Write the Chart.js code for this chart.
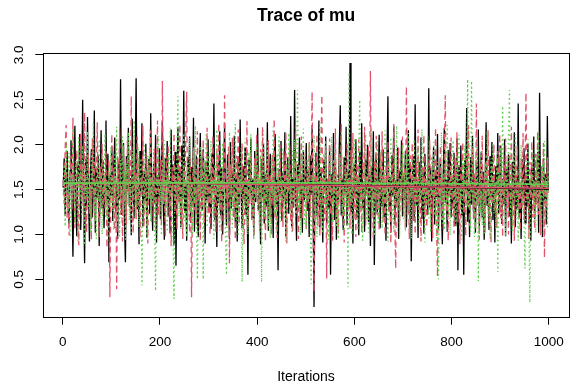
<!DOCTYPE html>
<html lang="en">
  <head>
    <meta charset="UTF-8" />
    <title>Trace of mu</title>
    <script src="https://cdn.jsdelivr.net/npm/chart.js"></script>
    <style>
      html,
      body {
        margin: 0;
        padding: 0;
        background: #fff;
      }
    </style>
  </head>
  <body>
    <canvas id="traceChart" width="573" height="392"></canvas>

    <script>
      // mu draws per chain, every 2nd iteration kept
      const thin = 2;

      const chain1 = [
        1.52, 1.85, 1.21, 1.64, 1.93, 1.38, 1.12, 1.71, 2.05, 1.47, 0.75, 1.58, 2.21, 1.33, 0.98, 1.77, 1.62, 2.12, 1.05, 1.49, 2.50, 1.36, 0.68, 1.84, 1.27,
        2.31, 1.44, 0.92, 1.68, 1.95, 1.19, 1.56, 2.38, 1.02, 1.73, 1.41, 1.88, 0.87, 1.61, 2.16, 1.29, 1.83, 1.07, 1.52, 2.27, 1.35, 1.90, 0.69, 1.66, 1.43,
        1.98, 1.15, 1.74, 2.08, 1.26, 1.57, 0.95, 1.81, 1.39, 2.73, 1.22, 1.67, 2.02, 1.11, 0.69, 1.87, 1.48, 2.19, 1.31, 1.63, 0.99, 2.29, 1.54, 1.18, 1.76,
        2.74, 1.28, 1.59, 0.89, 1.93, 1.45, 2.24, 1.09, 1.70, 1.37, 2.01, 0.96, 1.62, 1.84, 1.23, 2.35, 1.50, 1.04, 1.79, 1.34, 2.11, 0.91, 1.66, 1.42, 1.96,
        1.17, 1.72, 2.26, 1.30, 0.94, 1.85, 1.53, 2.04, 1.20, 1.61, 1.01, 2.17, 1.46, 1.78, 0.88, 1.92, 0.65, 1.55, 2.20, 1.36, 1.69, 1.08, 1.99, 1.40, 2.60,
        1.24, 1.58, 0.93, 1.86, 1.49, 2.09, 1.13, 1.75, 1.32, 2.30, 1.03, 1.64, 1.88, 1.19, 0.97, 1.71, 2.13, 1.44, 1.27, 1.95, 1.60, 0.90, 1.82, 1.38, 2.06,
        1.25, 1.68, 1.06, 1.91, 1.47, 2.46, 1.16, 1.57, 0.86, 1.80, 1.35, 2.15, 1.21, 1.74, 1.00, 1.63, 2.23, 1.41, 1.10, 1.89, 1.52, 0.95, 2.03, 1.29, 1.70,
        1.43, 2.10, 1.14, 1.65, 0.92, 1.87, 1.33, 2.28, 1.50, 1.07, 1.76, 1.39, 1.97, 1.22, 1.59, 0.55, 1.83, 1.46, 2.07, 1.18, 1.62, 0.99, 1.93, 1.36, 1.72,
        2.19, 1.27, 1.55, 0.89, 1.84, 1.42, 2.01, 1.12, 1.67, 1.31, 2.25, 1.04, 1.58, 1.90, 1.19, 1.48, 0.96, 1.79, 2.12, 1.34, 1.61, 0.60, 1.73, 1.45, 2.04,
        1.15, 1.69, 1.37, 2.14, 0.98, 1.56, 1.86, 1.23, 1.47, 2.32, 1.09, 1.64, 1.30, 2.61, 1.40, 0.93, 1.78, 1.52, 2.08, 1.17, 1.66, 1.02, 1.94, 1.38, 1.60,
        2.02, 1.26, 1.71, 0.97, 1.88, 1.44, 2.18, 1.32, 0.19, 1.63, 1.91, 1.20, 1.54, 2.27, 1.08, 1.75, 1.36, 0.91, 1.83, 1.49, 2.09, 1.13, 1.59, 1.28, 1.97,
        0.55, 1.67, 1.40, 2.13, 1.16, 1.80, 0.94, 1.57, 1.33, 1.99, 2.44, 1.21, 1.62, 1.05, 1.86, 1.45, 2.20, 1.10, 1.70, 1.35, 2.91, 1.25, 1.52, 0.90, 1.78,
        1.42, 2.06, 1.18, 1.61, 0.99, 1.92, 1.37, 2.24, 1.29, 1.55, 1.03, 1.84, 1.46, 2.00, 1.14, 1.68, 0.87, 1.76, 1.39, 2.15, 0.66, 1.58, 1.90, 1.23, 1.50,
        2.11, 1.07, 1.73, 1.31, 1.95, 1.19, 1.56, 0.93, 1.82, 2.54, 1.27, 1.64, 1.02, 1.88, 1.43, 2.21, 1.12, 1.60, 1.34, 1.97, 0.95, 1.71, 1.48, 2.05, 1.20,
        1.65, 1.38, 1.93, 1.08, 1.57, 2.16, 1.24, 1.79, 0.70, 1.53, 1.87, 1.15, 2.45, 1.32, 1.62, 0.96, 1.81, 1.44, 2.08, 1.17, 1.69, 1.01, 1.90, 1.36, 1.55,
        1.22, 2.63, 1.30, 1.74, 0.92, 1.59, 1.98, 1.11, 1.66, 1.40, 2.12, 1.06, 1.52, 1.85, 1.26, 0.89, 1.72, 2.19, 1.35, 1.61, 1.03, 1.94, 1.42, 2.02, 1.19,
        1.63, 1.29, 1.91, 1.10, 1.56, 2.07, 0.60, 1.77, 1.37, 1.99, 1.21, 1.68, 0.55, 1.83, 1.47, 2.41, 1.14, 1.58, 0.97, 1.86, 1.33, 2.10, 1.25, 1.64, 1.02,
        1.80, 1.41, 2.17, 1.09, 1.54, 1.92, 1.18, 1.70, 0.94, 1.60, 2.25, 1.32, 1.48, 1.05, 1.87, 1.39, 2.03, 1.16, 1.67, 0.91, 1.76, 1.44, 2.13, 1.23, 1.57,
        1.99, 1.12, 1.62, 1.34, 2.06, 0.98, 1.73, 1.45, 1.89, 1.20, 1.55, 0.90, 1.81, 1.37, 2.14, 1.08, 1.65, 1.28, 2.46, 1.19, 1.53, 0.95, 1.84, 1.40, 1.96,
        1.13, 1.69, 1.31, 2.01, 1.06, 1.58, 0.93, 1.78, 1.43, 2.09, 1.17, 1.61, 1.35, 1.92, 1.02, 2.58, 1.26, 1.54, 0.97, 1.85, 1.38, 1.67, 1.11, 2.32, 1.49,
      ];

      const chain2 = [
        1.61, 1.34, 1.97, 2.22, 1.18, 1.45, 0.99, 1.73, 1.88, 1.26, 2.30, 1.52, 1.07, 1.39, 1.94, 1.66, 0.88, 1.58, 2.14, 1.31, 1.79, 1.12, 2.36, 1.48, 1.02,
        1.70, 1.90, 1.23, 1.55, 0.94, 2.07, 1.43, 1.81, 1.15, 1.62, 2.25, 1.36, 0.97, 1.76, 1.50, 2.01, 1.20, 1.67, 1.29, 1.93, 0.85, 1.59, 1.84, 0.30, 1.46,
        2.12, 1.28, 1.74, 1.05, 1.64, 0.39, 1.87, 1.41, 2.18, 1.22, 1.53, 0.92, 1.99, 1.35, 1.69, 1.11, 2.04, 1.47, 1.80, 1.25, 2.54, 1.38, 1.01, 1.72, 1.57,
        1.17, 2.09, 1.32, 1.85, 0.96, 1.63, 1.44, 2.21, 1.08, 1.51, 1.91, 1.27, 0.90, 1.78, 1.40, 2.16, 1.14, 1.68, 1.33, 1.96, 1.04, 1.60, 2.27, 1.21, 1.49,
        1.83, 1.10, 2.71, 1.37, 1.65, 0.98, 1.89, 1.30, 2.00, 1.19, 1.56, 0.87, 1.75, 1.42, 2.13, 1.24, 1.61, 1.06, 1.92, 1.35, 2.23, 1.16, 1.54, 0.95, 1.77,
        1.45, 2.03, 2.59, 1.20, 1.66, 1.02, 1.84, 0.30, 1.50, 1.97, 1.27, 1.71, 1.09, 2.15, 1.39, 1.58, 0.93, 1.86, 1.31, 2.06, 1.13, 1.64, 1.44, 2.19, 1.22,
        1.55, 0.99, 1.80, 1.36, 2.10, 1.18, 1.69, 1.03, 1.94, 1.41, 2.24, 1.26, 1.60, 0.91, 1.73, 1.47, 2.55, 1.15, 1.62, 1.33, 1.98, 0.68, 1.78, 1.43, 2.08,
        1.19, 1.67, 0.94, 1.88, 1.30, 2.17, 1.11, 1.57, 1.46, 2.02, 1.24, 0.89, 1.76, 1.38, 2.26, 1.07, 1.63, 1.34, 1.92, 1.16, 1.52, 0.97, 1.85, 1.40, 2.11,
        1.28, 1.70, 1.04, 1.95, 1.37, 2.20, 1.12, 1.59, 0.92, 1.81, 1.45, 2.05, 1.21, 1.66, 1.00, 1.89, 1.32, 2.29, 1.17, 1.54, 0.96, 1.74, 1.43, 2.00, 1.25,
        1.61, 1.08, 1.93, 1.35, 2.14, 0.90, 1.72, 1.48, 1.99, 1.14, 1.58, 1.03, 1.84, 1.39, 2.22, 1.23, 1.65, 0.95, 1.79, 1.30, 2.09, 1.18, 1.56, 1.44, 1.91,
        1.05, 1.68, 1.33, 2.03, 1.20, 1.62, 2.59, 1.27, 0.36, 1.75, 1.41, 2.12, 1.09, 1.57, 0.98, 1.86, 2.55, 1.31, 1.70, 1.15, 1.96, 0.51, 1.64, 1.38, 2.07,
        1.22, 1.59, 0.93, 1.83, 1.46, 2.18, 1.13, 1.67, 1.01, 1.90, 1.36, 2.24, 1.19, 1.55, 0.91, 1.77, 1.42, 2.01, 1.26, 1.63, 1.06, 1.94, 1.34, 2.13, 1.16,
        1.71, 0.97, 1.80, 1.40, 2.06, 1.24, 1.58, 1.02, 1.87, 1.32, 2.20, 1.10, 1.65, 1.45, 1.98, 1.17, 2.82, 1.29, 1.53, 0.94, 1.82, 1.37, 2.10, 1.21, 1.60,
        1.04, 1.92, 1.43, 2.15, 1.14, 1.69, 0.99, 1.78, 1.35, 2.04, 1.25, 1.56, 0.90, 1.85, 1.47, 2.23, 1.18, 0.62, 1.66, 1.33, 1.97, 1.11, 1.61, 1.39, 2.09,
        1.23, 1.73, 1.06, 2.65, 1.30, 1.57, 0.95, 1.88, 1.42, 2.02, 1.15, 1.64, 1.00, 1.81, 1.36, 2.17, 1.27, 1.54, 0.92, 1.76, 1.44, 2.11, 1.19, 1.62, 1.08,
        1.90, 1.34, 2.05, 1.22, 1.59, 0.96, 1.83, 1.40, 2.19, 1.12, 0.53, 1.70, 1.31, 1.99, 1.16, 1.63, 1.03, 1.87, 2.55, 1.26, 1.52, 0.93, 1.79, 1.43, 2.08,
        1.20, 1.66, 1.01, 1.86, 1.35, 2.14, 1.13, 1.56, 0.89, 1.75, 1.41, 2.03, 1.24, 1.61, 0.98, 1.91, 1.29, 2.22, 1.09, 1.58, 1.45, 1.96, 1.17, 1.68, 1.05,
        2.46, 1.32, 1.55, 0.94, 1.80, 1.38, 2.10, 1.21, 1.64, 1.02, 1.89, 1.43, 2.16, 1.14, 1.57, 0.91, 1.78, 1.33, 2.01, 1.25, 1.60, 1.07, 1.93, 1.39, 2.12,
        1.18, 1.67, 0.97, 1.84, 1.42, 2.07, 1.23, 1.53, 1.00, 1.88, 1.36, 2.20, 1.10, 1.62, 0.93, 1.77, 1.44, 1.99, 1.27, 1.59, 1.04, 1.85, 1.30, 2.13, 1.16,
        1.65, 2.58, 1.37, 1.54, 0.95, 1.81, 1.40, 2.04, 1.19, 1.60, 1.06, 1.90, 1.33, 2.15, 1.22, 1.57, 0.99, 1.76, 1.46, 2.02, 0.74, 1.63, 1.28, 1.86, 1.41,
      ];

      const chain3 = [
        1.44, 1.78, 1.09, 2.03, 1.56, 1.25, 1.91, 0.97, 1.67, 1.35, 2.18, 1.48, 1.13, 1.82, 1.60, 0.93, 2.08, 1.38, 1.71, 1.20, 1.99, 1.53, 0.88, 1.86, 1.42,
        2.15, 1.29, 1.63, 1.03, 1.92, 1.47, 2.24, 1.15, 1.58, 0.95, 1.80, 1.37, 2.06, 1.21, 1.69, 1.00, 1.87, 1.43, 2.12, 1.18, 1.55, 0.91, 1.75, 1.32, 1.97,
        1.26, 1.64, 1.05, 1.89, 1.39, 2.20, 1.11, 1.57, 0.98, 1.83, 1.45, 2.09, 1.23, 1.70, 0.94, 1.79, 1.34, 2.14, 1.16, 1.61, 1.02, 1.93, 1.41, 2.27, 1.19,
        1.66, 1.30, 1.98, 1.08, 1.59, 1.85, 0.43, 1.52, 2.01, 1.24, 1.73, 0.96, 1.88, 1.40, 2.16, 1.14, 1.62, 1.36, 1.95, 1.07, 0.37, 1.68, 1.45, 2.10, 1.22,
        1.58, 0.99, 1.84, 1.33, 2.05, 1.17, 1.65, 1.03, 1.90, 1.44, 2.19, 1.27, 1.54, 0.92, 0.28, 1.76, 1.38, 2.00, 2.54, 1.20, 1.61, 1.06, 1.87, 1.31, 2.13,
        1.15, 1.70, 0.97, 1.81, 1.46, 2.08, 1.25, 1.57, 1.01, 1.94, 1.35, 2.21, 1.12, 0.50, 1.64, 1.42, 1.98, 1.19, 1.72, 0.50, 1.83, 1.29, 2.11, 1.08, 1.55,
        1.91, 1.37, 2.04, 1.22, 1.60, 0.95, 1.78, 1.43, 2.17, 1.13, 1.66, 1.04, 1.89, 1.32, 2.02, 1.24, 1.51, 0.93, 0.55, 1.74, 1.40, 2.14, 1.18, 1.63, 1.07,
        1.86, 1.34, 2.23, 1.16, 1.58, 0.98, 1.80, 1.45, 1.96, 0.47, 1.69, 1.28, 2.07, 1.11, 1.56, 1.00, 1.92, 1.39, 2.12, 1.21, 1.62, 0.94, 1.77, 1.44, 2.01,
        1.26, 1.67, 1.05, 1.88, 0.47, 1.53, 2.16, 1.19, 1.71, 1.36, 2.03, 1.09, 1.60, 0.96, 1.85, 1.41, 2.20, 1.23, 1.57, 1.02, 1.90, 1.33, 2.09, 1.14, 1.65,
        1.38, 1.97, 1.17, 1.59, 0.92, 1.82, 1.46, 2.13, 1.24, 1.68, 1.03, 1.93, 1.35, 2.06, 1.20, 1.54, 2.61, 1.29, 1.74, 0.99, 1.87, 1.42, 2.18, 1.12, 1.61,
        1.06, 1.84, 1.37, 2.02, 1.21, 0.45, 1.66, 1.48, 2.11, 1.15, 1.58, 0.97, 1.79, 1.40, 2.24, 1.18, 1.63, 1.01, 1.90, 1.34, 2.05, 1.25, 1.56, 0.94, 1.81,
        1.43, 2.09, 1.13, 1.67, 1.32, 1.96, 1.08, 1.62, 0.95, 1.86, 1.39, 2.15, 1.22, 1.55, 1.04, 1.89, 1.30, 1.70, 0.41, 2.80, 1.36, 1.59, 1.00, 1.83, 1.47,
        2.07, 1.19, 1.64, 1.05, 1.91, 2.50, 1.28, 1.53, 0.93, 1.78, 1.41, 2.12, 1.16, 1.68, 1.02, 1.85, 1.35, 2.19, 1.24, 1.57, 0.98, 1.80, 1.44, 2.04, 1.11,
        1.62, 1.31, 1.95, 1.07, 1.73, 1.38, 2.16, 1.20, 1.56, 0.92, 1.82, 1.46, 2.08, 1.14, 1.65, 1.03, 1.88, 1.33, 2.21, 1.26, 1.59, 0.97, 1.76, 1.42, 2.00,
        1.17, 1.69, 1.04, 1.90, 1.37, 2.13, 1.22, 1.55, 0.95, 1.84, 1.45, 2.06, 1.13, 1.63, 1.30, 1.98, 1.09, 1.71, 1.40, 2.17, 1.25, 1.58, 0.91, 1.79, 1.34,
        2.10, 1.18, 1.66, 1.02, 1.87, 1.43, 2.03, 1.21, 1.60, 0.96, 1.81, 0.50, 1.52, 1.37, 2.14, 1.12, 1.67, 1.05, 1.93, 1.32, 2.22, 1.19, 1.57, 0.99, 1.78,
        1.44, 2.05, 1.15, 1.64, 1.08, 1.89, 1.36, 2.11, 1.27, 1.54, 0.94, 1.83, 1.41, 1.99, 1.16, 1.61, 2.73, 1.29, 1.70, 1.03, 2.71, 1.38, 1.58, 0.97, 1.86,
        1.33, 2.07, 0.48, 1.65, 1.24, 1.92, 1.10, 1.57, 1.01, 1.80, 1.42, 2.15, 1.19, 1.63, 0.95, 1.85, 1.35, 2.02, 1.23, 1.56, 1.06, 1.88, 0.58, 1.69, 1.30,
        1.97, 1.14, 2.43, 1.37, 1.60, 0.98, 1.82, 1.45, 2.09, 2.61, 1.21, 1.66, 1.04, 1.90, 1.39, 2.12, 1.17, 1.58, 0.93, 1.76, 1.44, 2.00, 1.26, 1.62, 1.09,
        0.62, 1.84, 1.36, 2.06, 1.18, 0.24, 1.67, 1.43, 1.95, 1.12, 1.59, 1.02, 1.87, 1.31, 2.14, 1.22, 1.54, 0.97, 1.79, 1.40, 2.04, 1.16, 1.63, 1.08, 1.72,
      ];

      // lowess smooth of each chain
      const smoothIters = [1, 250, 500, 750, 1000];
      const smooth1 = [1.578, 1.57, 1.552, 1.53, 1.508];
      const smooth2 = [1.575, 1.568, 1.55, 1.528, 1.515];
      const smooth3 = [1.572, 1.575, 1.575, 1.568, 1.56];

      const xTicks = [0, 200, 400, 600, 800, 1000];
      const yTicks = [0.5, 1.0, 1.5, 2.0, 2.5, 3.0];

      const chainColors = ["#000000", "#DF536B", "#61D04F"];
      const fontFamily = "'Liberation Sans', Arial, Helvetica, sans-serif";

      const toPoints = (values) =>
        values.map((v, i) => ({ x: 1 + thin * i, y: v }));
      const toSmooth = (values) =>
        values.map((v, i) => ({ x: smoothIters[i], y: v }));

      // frame around the plot region
      const plotBox = {
        id: "plotBox",
        afterDraw(chart) {
          const { ctx, chartArea } = chart;
          const left = Math.round(chartArea.left) + 0.5;
          const top = Math.round(chartArea.top) + 0.5;
          const right = Math.round(chartArea.right) + 0.5;
          const bottom = Math.round(chartArea.bottom) + 0.5;
          ctx.save();
          ctx.strokeStyle = "#000";
          ctx.lineWidth = 1;
          ctx.strokeRect(left, top, right - left, bottom - top);
          ctx.restore();
        },
      };

      const traceStyle = {
        borderWidth: 1.3,
        pointRadius: 0,
        tension: 0,
        fill: false,
      };
      const smoothStyle = { ...traceStyle, borderWidth: 1.6 };

      new Chart(document.getElementById("traceChart"), {
        type: "line",
        data: {
          datasets: [
            { ...traceStyle, data: toPoints(chain1), borderColor: chainColors[0], order: 6 },
            { ...traceStyle, data: toPoints(chain2), borderColor: chainColors[1], borderDash: [6, 4], order: 5 },
            { ...traceStyle, data: toPoints(chain3), borderColor: chainColors[2], borderDash: [1.5, 3], order: 4 },
            { ...smoothStyle, data: toSmooth(smooth1), borderColor: chainColors[0], order: 3 },
            { ...smoothStyle, data: toSmooth(smooth2), borderColor: chainColors[1], order: 2 },
            { ...smoothStyle, data: toSmooth(smooth3), borderColor: chainColors[2], order: 1 },
          ],
        },
        options: {
          responsive: false,
          animation: false,
          events: [],
          layout: { padding: { top: 0, left: 0, right: -1, bottom: 0 } },
          plugins: {
            legend: { display: false },
            tooltip: { enabled: false },
            title: {
              display: true,
              text: "Trace of mu",
              color: "#000",
              fullSize: false,
              font: { family: fontFamily, size: 17.5, weight: "bold" },
              padding: { top: 6, bottom: 26 },
            },
          },
          scales: {
            x: {
              type: "linear",
              min: -39.96,
              max: 1040.96,
              afterBuildTicks: (scale) => {
                scale.ticks = xTicks.map((v) => ({ value: v }));
              },
              afterFit: (scale) => {
                scale.height = 75.3;
              },
              ticks: {
                color: "#000",
                font: { family: fontFamily, size: 13.5 },
                maxRotation: 0,
                padding: 9,
                callback: (v) => String(v),
              },
              grid: {
                drawOnChartArea: false,
                drawTicks: true,
                tickLength: 8,
                color: "#000",
                lineWidth: 1,
              },
              border: { display: false },
              title: {
                display: true,
                text: "Iterations",
                color: "#000",
                font: { family: fontFamily, size: 14 },
                padding: { top: 0, bottom: 6 },
              },
            },
            y: {
              type: "linear",
              min: 0.083,
              max: 3.022,
              afterBuildTicks: (scale) => {
                scale.ticks = yTicks.map((v) => ({ value: v }));
              },
              afterFit: (scale) => {
                scale.width = 43.3;
              },
              ticks: {
                color: "#000",
                font: { family: fontFamily, size: 13.5 },
                minRotation: 90,
                maxRotation: 90,
                crossAlign: "center",
                padding: 7,
                callback: (v) => v.toFixed(1),
              },
              grid: {
                drawOnChartArea: false,
                drawTicks: true,
                tickLength: 8,
                color: "#000",
                lineWidth: 1,
              },
              border: { display: false },
            },
          },
        },
        plugins: [plotBox],
      });
    </script>
  </body>
</html>
